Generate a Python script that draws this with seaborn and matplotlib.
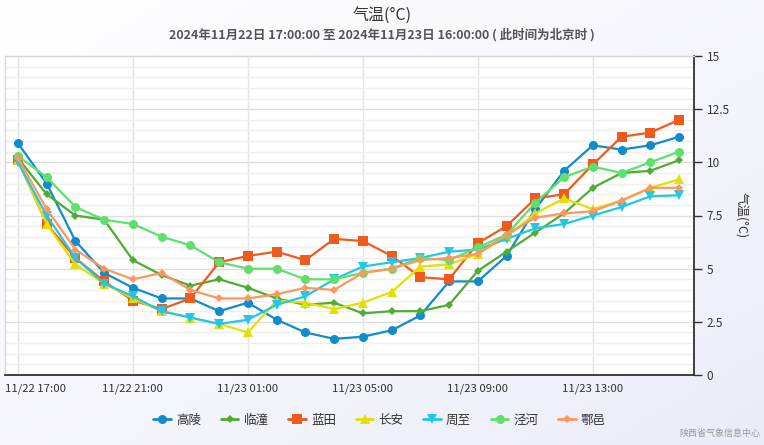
import matplotlib
matplotlib.use('Agg')
import matplotlib.pyplot as plt
import matplotlib.transforms as mtransforms
import numpy as np
import pandas as pd
import seaborn as sns

# hourly steps from 11/22 17:00 to 11/23 16:00
hours = list(range(24))
tick_pos = [0, 4, 8, 12, 16, 20]
tick_labels = ['11/22 17:00', '11/22 21:00', '11/23 01:00',
               '11/23 05:00', '11/23 09:00', '11/23 13:00']

stations = ['高陵', '临潼', '蓝田', '长安', '周至', '泾河', '鄠邑']

gaoling = [10.9, 9.0, 6.3, 4.8, 4.1, 3.6, 3.6, 3.0, 3.4, 2.6, 2.0, 1.7,
           1.8, 2.1, 2.8, 4.4, 4.4, 5.6, 7.8, 9.6, 10.8, 10.6, 10.8, 11.2]
lintong = [10.2, 8.5, 7.5, 7.3, 5.4, 4.7, 4.2, 4.5, 4.1, 3.6, 3.3, 3.4,
           2.9, 3.0, 3.0, 3.3, 4.9, 5.8, 6.7, 7.6, 8.8, 9.5, 9.6, 10.1]
lantian = [10.1, 7.1, 5.5, 4.4, 3.5, 3.1, 3.6, 5.3, 5.6, 5.8, 5.4, 6.4,
           6.3, 5.6, 4.6, 4.5, 6.2, 7.0, 8.3, 8.5, 9.9, 11.2, 11.4, 12.0]
changan = [10.1, 7.1, 5.2, 4.3, 3.6, 3.0, 2.7, 2.4, 2.0, 3.5, 3.4, 3.1,
           3.4, 3.9, 5.1, 5.2, 5.7, 6.5, 7.6, 8.3, 7.8, 8.2, 8.8, 9.2]
zhouzhi = [10.0, 7.5, 5.5, 4.3, 3.7, 3.0, 2.7, 2.4, 2.6, 3.3, 3.7, 4.5,
           5.1, 5.3, 5.5, 5.8, 5.9, 6.4, 6.9, 7.1, 7.5, 7.9, 8.4, 8.45]
jinghe = [10.3, 9.3, 7.9, 7.3, 7.1, 6.5, 6.1, 5.3, 5.0, 5.0, 4.5, 4.5,
          4.8, 5.0, 5.5, 5.4, 6.0, 6.6, 8.1, 9.3, 9.8, 9.5, 10.0, 10.5]
huyi = [10.2, 7.8, 5.9, 5.0, 4.5, 4.8, 4.0, 3.6, 3.6, 3.8, 4.1, 4.0,
        4.8, 5.0, 5.4, 5.5, 5.7, 6.6, 7.4, 7.6, 7.7, 8.2, 8.8, 8.8]

series = [gaoling, lintong, lantian, changan, zhouzhi, jinghe, huyi]
colors = ['#108ccc', '#4cad30', '#f05a1c', '#e2e000', '#22c6e6', '#5fe06c', '#ff9660']
markers = ['o', 'D', 's', '^', 'v', 'o', 'D']
msizes = [6.5, 4.5, 6.5, 6.5, 6.5, 6.5, 4.5]

fig = plt.figure(figsize=(7.64, 4.45), dpi=100)
sns.set_style('white')
plt.rcParams['font.family'] = ['Noto Sans CJK SC', 'DejaVu Sans']

# soft lavender gradient behind everything
bg = fig.add_axes([0, 0, 1, 1], zorder=-10)
gx, gy = np.meshgrid(np.linspace(0, 1, 200), np.linspace(0, 1, 200))
grad = (gx + gy) / 2
bg.imshow(grad, cmap=matplotlib.colors.LinearSegmentedColormap.from_list(
    'bgc', ['#ffffff', '#ececf9']), aspect='auto', extent=[0, 1, 0, 1], origin='upper')
bg.axis('off')

ax = fig.add_axes([5 / 764, 70 / 445, 689 / 764, 319 / 445])
ax.set_facecolor('white')

for name, vals, c, m, ms in zip(stations, series, colors, markers, msizes):
    d = pd.DataFrame({'hour': hours, 'temp': vals})
    sns.lineplot(data=d, x='hour', y='temp', color=c, marker=m, markersize=ms,
                 markeredgewidth=0, linewidth=1.6, ax=ax, label=name, legend=False)

ax.set_xlim(-0.45, 23.52)
ax.set_ylim(0, 15)
ax.set_xlabel('')

ax.yaxis.tick_right()
ax.yaxis.set_label_position('right')
ax.set_yticks([0, 2.5, 5, 7.5, 10, 12.5, 15])
ax.set_yticklabels(['0', '2.5', '5', '7.5', '10', '12.5', '15'])
ax.set_yticks(np.arange(0, 15.01, 0.5), minor=True)
ax.tick_params(axis='y', which='major', length=6, width=1, color='#333333',
               labelsize=8.5, labelcolor='#333333', pad=3, right=True)
ax.tick_params(axis='y', which='minor', length=0)
ax.set_ylabel('气温(°C)', rotation=-90, va='bottom', fontsize=9, color='#333333', labelpad=4)

ax.set_xticks(tick_pos)
ax.set_xticklabels(tick_labels)
ax.tick_params(axis='x', length=0, labelsize=8.2, labelcolor='#333333', pad=6)
first = ax.get_xticklabels()[0]
first.set_ha('left')
first.set_transform(first.get_transform() + mtransforms.ScaledTranslation(-13 / 100, 0, fig.dpi_scale_trans))

ax.grid(axis='y', which='major', color='#dedede', linewidth=1)
ax.grid(axis='y', which='minor', color='#efefef', linewidth=1)
ax.grid(axis='x', which='major', color='#e4e4e4', linewidth=1)
ax.set_axisbelow(True)

for side in ['left', 'top']:
    ax.spines[side].set_color('#d8d8d8')
    ax.spines[side].set_linewidth(1)
for side in ['right', 'bottom']:
    ax.spines[side].set_color('#222222')
    ax.spines[side].set_linewidth(1.2)

handles = [plt.Line2D([], [], color=c, marker=m, markersize=ms, markeredgewidth=0, linewidth=2)
           for c, m, ms in zip(colors, markers, msizes)]
fig.legend(handles, stations, loc='center', bbox_to_anchor=(0.497, 0.056), ncol=7,
           frameon=False, fontsize=9, handlelength=1.4, handletextpad=0.4,
           columnspacing=1.6, labelcolor='#333333')

fig.text(0.5, 0.966, '气温(°C)', ha='center', va='center', fontsize=11.5, color='#333333')
fig.text(0.5, 0.921, '2024年11月22日 17:00:00 至 2024年11月23日 16:00:00 ( 此时间为北京时 )',
         ha='center', va='center', fontsize=9, color='#555555', fontweight='bold')
fig.text(0.995, 0.015, '陕西省气象信息中心', ha='right', va='bottom', fontsize=6.5, color='#999999')

fig.savefig('out.png', dpi=100)
